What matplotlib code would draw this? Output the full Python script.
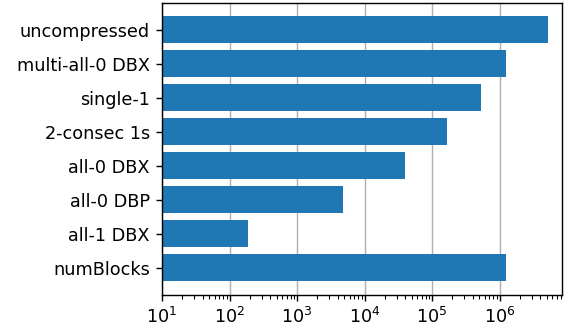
import matplotlib
matplotlib.use("Agg")
import matplotlib.pyplot as plt

labels = ["uncompressed", "multi-all-0 DBX", "single-1", "2-consec 1s",
          "all-0 DBX", "all-0 DBP", "all-1 DBX", "numBlocks"]
sizes = [5.24e6, 1.25e6, 5.32e5, 1.67e5, 3.98e4, 4.8e3, 188, 1.25e6]

dpi = 127
fig = plt.figure(figsize=(583 / dpi, 332 / dpi), dpi=dpi)
ax = fig.add_axes([0.278, 0.1123, 0.6867, 0.8797])

ax.barh(labels, sizes, color="#1f77b4")
ax.set_xscale("log")
ax.set_xlim(10, 8.5e6)
ax.invert_yaxis()
ax.grid(axis="x", color="#b0b0b0")
ax.set_axisbelow(True)

fig.savefig("out.png", dpi=dpi)
